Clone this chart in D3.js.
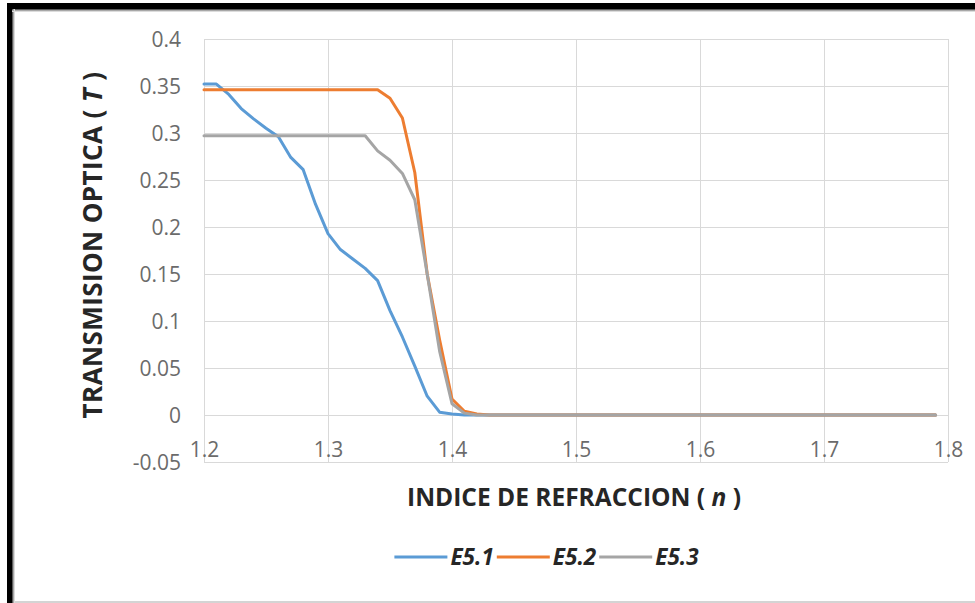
<!DOCTYPE html>
<html>
<head>
<meta charset="utf-8">
<script src="https://cdn.jsdelivr.net/npm/d3@7"></script>
<style>
  html, body { margin: 0; padding: 0; background: #ffffff; }
  svg { display: block; }
</style>
</head>
<body>
<svg id="chart" width="975" height="603"></svg>
<script>
// Refractive index (n) sampled at each step
const nValues = [
  1.20, 1.21, 1.22, 1.23, 1.24, 1.25, 1.26, 1.27, 1.28, 1.29,
  1.30, 1.31, 1.32, 1.33, 1.34, 1.35, 1.36, 1.37, 1.38, 1.39,
  1.40, 1.41, 1.42, 1.43, 1.44, 1.45, 1.46, 1.47, 1.48, 1.49,
  1.50, 1.51, 1.52, 1.53, 1.54, 1.55, 1.56, 1.57, 1.58, 1.59,
  1.60, 1.61, 1.62, 1.63, 1.64, 1.65, 1.66, 1.67, 1.68, 1.69,
  1.70, 1.71, 1.72, 1.73, 1.74, 1.75, 1.76, 1.77, 1.78, 1.79
];

// Optical transmission (T) for each sample
const e51 = [
  0.352, 0.352, 0.341, 0.326, 0.315, 0.305, 0.296, 0.274, 0.261, 0.224,
  0.193, 0.176, 0.166, 0.156, 0.143, 0.111, 0.083, 0.052, 0.020, 0.003,
  0.001, 0, 0, 0, 0, 0, 0, 0, 0, 0,
  0, 0, 0, 0, 0, 0, 0, 0, 0, 0,
  0, 0, 0, 0, 0, 0, 0, 0, 0, 0,
  0, 0, 0, 0, 0, 0, 0, 0, 0, 0
];
const e52 = [
  0.346, 0.346, 0.346, 0.346, 0.346, 0.346, 0.346, 0.346, 0.346, 0.346,
  0.346, 0.346, 0.346, 0.346, 0.346, 0.337, 0.316, 0.258, 0.150, 0.080,
  0.017, 0.004, 0.001, 0, 0, 0, 0, 0, 0, 0,
  0, 0, 0, 0, 0, 0, 0, 0, 0, 0,
  0, 0, 0, 0, 0, 0, 0, 0, 0, 0,
  0, 0, 0, 0, 0, 0, 0, 0, 0, 0
];
const e53 = [
  0.297, 0.297, 0.297, 0.297, 0.297, 0.297, 0.297, 0.297, 0.297, 0.297,
  0.297, 0.297, 0.297, 0.297, 0.281, 0.271, 0.257, 0.229, 0.150, 0.068,
  0.012, 0.002, 0, 0, 0, 0, 0, 0, 0, 0,
  0, 0, 0, 0, 0, 0, 0, 0, 0, 0,
  0, 0, 0, 0, 0, 0, 0, 0, 0, 0,
  0, 0, 0, 0, 0, 0, 0, 0, 0, 0
];

const seriesNames = ["E5.1", "E5.2", "E5.3"];
const seriesValues = [e51, e52, e53];
const seriesColors = ["#5b9bd5", "#ed7d31", "#a5a5a5"];

const xTicks = [1.2, 1.3, 1.4, 1.5, 1.6, 1.7, 1.8];
const xTickLabels = ["1.2", "1.3", "1.4", "1.5", "1.6", "1.7", "1.8"];
const yTicks = [-0.05, 0, 0.05, 0.1, 0.15, 0.2, 0.25, 0.3, 0.35, 0.4];
const yTickLabels = ["-0.05", "0", "0.05", "0.1", "0.15", "0.2", "0.25", "0.3", "0.35", "0.4"];

const svg = d3.select("#chart");
const W = 975, H = 603;

// Frame: heavy dark edge along top and left, light rule at the bottom
const frame = svg.append("g");
frame.append("rect").attr("x", 0).attr("y", 0).attr("width", W).attr("height", H).attr("fill", "#ffffff");
frame.append("rect").attr("x", 12).attr("y", 601).attr("width", W - 12).attr("height", 2).attr("fill", "#d4d4d4");
[["#5a5a5a", 0], ["#a8a8a8", 1], ["#dcdcdc", 2]].forEach(([c, i]) => {
  frame.append("rect").attr("x", 12).attr("y", 9 + i).attr("width", W - 12).attr("height", 1).attr("fill", c);
  frame.append("rect").attr("x", 12 + i).attr("y", 9).attr("width", 1).attr("height", H - 9).attr("fill", c);
});
frame.append("rect").attr("x", 7).attr("y", 3).attr("width", W - 7).attr("height", 6).attr("fill", "#000");
frame.append("rect").attr("x", 7).attr("y", 3).attr("width", 5).attr("height", H - 3).attr("fill", "#000");

// Plot area
const plot = { left: 204, right: 948, top: 39, bottom: 462 };
const x = d3.scaleLinear().domain([1.2, 1.8]).range([plot.left, plot.right]);
const y = d3.scaleLinear().domain([-0.05, 0.4]).range([plot.bottom, plot.top]);

const tickFont = "'Open Sans', 'DejaVu Sans', sans-serif";

// Gridlines
const gridY = svg.append("g")
  .attr("transform", `translate(${plot.left},0)`)
  .call(d3.axisLeft(y).tickValues(yTicks).tickSize(-(plot.right - plot.left)).tickFormat(""));
gridY.select(".domain").remove();
gridY.selectAll("line").attr("stroke", "#d9d9d9").attr("stroke-width", 1);

const gridX = svg.append("g")
  .attr("transform", `translate(0,${plot.bottom})`)
  .call(d3.axisBottom(x).tickValues(xTicks).tickSize(-(plot.bottom - plot.top)).tickFormat(""));
gridX.select(".domain").remove();
gridX.selectAll("line").attr("stroke", "#d9d9d9").attr("stroke-width", 1);

// Y tick labels
const yAxis = svg.append("g")
  .attr("transform", `translate(${plot.left},0)`)
  .call(d3.axisLeft(y).tickValues(yTicks).tickSize(0).tickPadding(23)
    .tickFormat((d, i) => yTickLabels[i]));
yAxis.select(".domain").remove();
yAxis.selectAll("text")
  .attr("font-family", tickFont).attr("font-size", 21).attr("fill", "#6b6b6b")
  .attr("dy", "0.36em");

// X tick labels
const xAxis = svg.append("g")
  .attr("transform", `translate(0,457)`)
  .call(d3.axisBottom(x).tickValues(xTicks).tickSize(0)
    .tickFormat((d, i) => xTickLabels[i]));
xAxis.select(".domain").remove();
xAxis.selectAll("text")
  .attr("y", 0).attr("dy", 0)
  .attr("font-family", tickFont).attr("font-size", 21).attr("fill", "#6b6b6b");

// Series lines
const line = d3.line()
  .x((d, i) => x(nValues[i]))
  .y(d => y(d))
  .curve(d3.curveLinear);

svg.append("g").selectAll("path")
  .data(seriesValues)
  .join("path")
  .attr("d", line)
  .attr("fill", "none")
  .attr("stroke", (d, i) => seriesColors[i])
  .attr("stroke-width", 3)
  .attr("stroke-linejoin", "round")
  .attr("stroke-linecap", "round");

// Axis titles
const titleFont = "'Open Sans', 'DejaVu Sans', sans-serif";
const yTitle = svg.append("text")
  .attr("transform", `translate(102,245) rotate(-90)`)
  .attr("text-anchor", "middle")
  .attr("font-family", titleFont).attr("font-weight", 700).attr("font-size", 26)
  .attr("letter-spacing", 0.4)
  .attr("fill", "#262626");
yTitle.append("tspan").text("TRANSMISION OPTICA ( ");
yTitle.append("tspan").attr("font-style", "italic").text("T");
yTitle.append("tspan").text(" )");

const xTitle = svg.append("text")
  .attr("x", 574).attr("y", 506)
  .attr("text-anchor", "middle")
  .attr("font-family", titleFont).attr("font-weight", 700).attr("font-size", 24.5)
  .attr("fill", "#262626");
xTitle.append("tspan").text("INDICE DE REFRACCION ( ");
xTitle.append("tspan").attr("font-style", "italic").text("n");
xTitle.append("tspan").text(" )");

// Legend
const legend = svg.append("g");
const swatch = 53, gap = 3;
let cursor = 0;
seriesNames.forEach((name, i) => {
  const g = legend.append("g");
  g.append("line")
    .attr("x1", cursor).attr("x2", cursor + swatch)
    .attr("y1", 0).attr("y2", 0)
    .attr("stroke", seriesColors[i]).attr("stroke-width", 3);
  const t = g.append("text")
    .attr("x", cursor + swatch + gap).attr("y", 0).attr("dy", "0.36em")
    .attr("font-family", titleFont).attr("font-weight", 700).attr("font-style", "italic")
    .attr("font-size", 22.5).attr("fill", "#262626")
    .text(name);
  cursor += swatch + gap + t.node().getComputedTextLength() + gap;
});
legend.attr("transform", `translate(${548 - cursor / 2},557)`);
</script>
</body>
</html>
